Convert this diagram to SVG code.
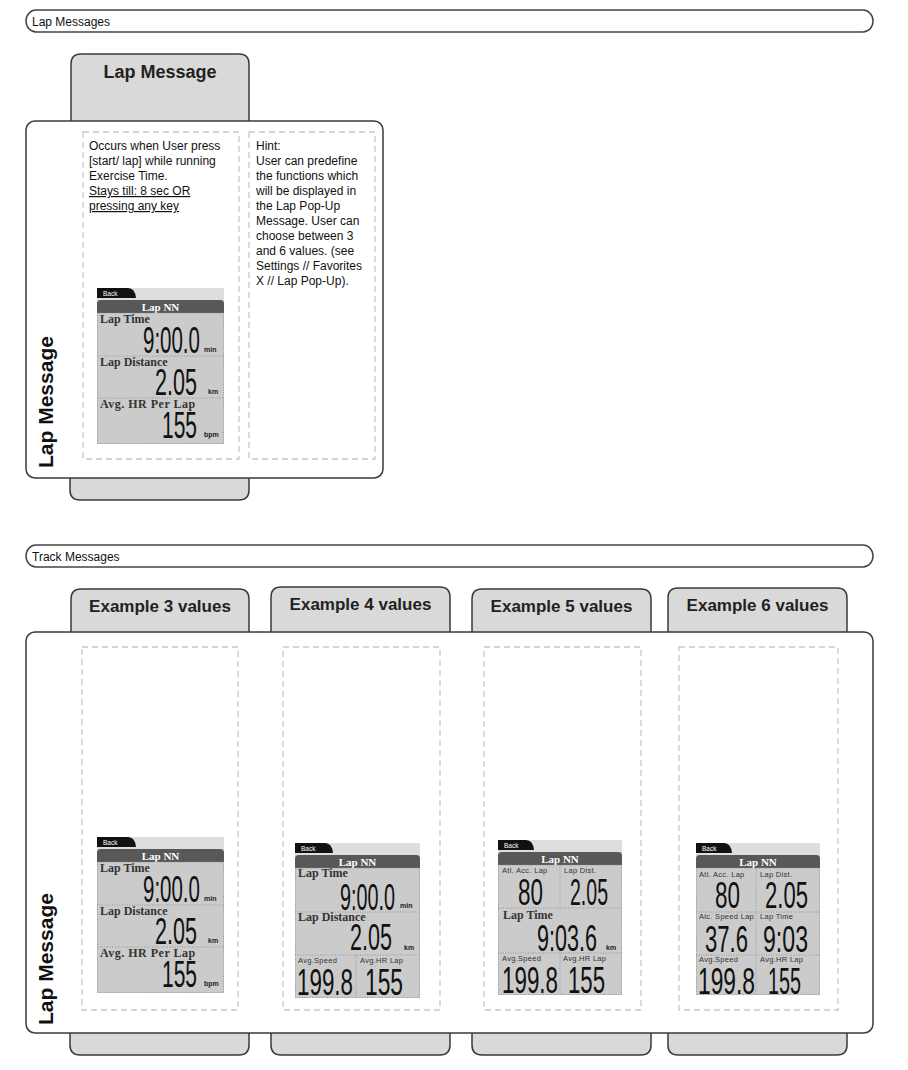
<svg xmlns="http://www.w3.org/2000/svg" width="908" height="1070" viewBox="0 0 908 1070">
<style>
.bg{fill:#fff}
.bar{fill:#fff;stroke:#444;stroke-width:1.5}
.tab{fill:#d9d9d9;stroke:#3a3a3a;stroke-width:1.5}
.panel{fill:#fff;stroke:#3a3a3a;stroke-width:1.5}
.dash{fill:none;stroke:#c8c8c8;stroke-width:1.3;stroke-dasharray:6 4}
.bartxt{font-family:"Liberation Sans",Arial,sans-serif;font-size:12px;fill:#111}
.tabtxt{font-family:"Liberation Sans",Arial,sans-serif;font-size:17px;font-weight:bold;fill:#222;text-anchor:middle}
.vert{font-family:"Liberation Sans",Arial,sans-serif;font-size:21px;font-weight:bold;fill:#111}
.body{font-family:"Liberation Sans",Arial,sans-serif;font-size:12px;fill:#111}
.scr{fill:#cbcbcb}
.strip{fill:#dedede}
.backtab{fill:#111}
.hdrbar{fill:#585858}
.dots{fill:none;stroke:#8a8a8a;stroke-width:0.8;stroke-dasharray:1 1.5}
.lbl{font-family:"Liberation Serif","Times New Roman",serif;font-weight:bold;font-size:12px;fill:#333}
.sl{font-family:"Liberation Sans",Arial,sans-serif;font-size:7.5px;fill:#333;letter-spacing:0.3px}
.dg{font-family:"Liberation Sans",Arial,sans-serif;font-size:37px;fill:#111}
.un{font-family:"Liberation Sans",Arial,sans-serif;font-size:7px;font-weight:bold;fill:#222}
.hdr{font-family:"Liberation Serif","Times New Roman",serif;font-weight:bold;font-size:11px;fill:#fff;text-anchor:middle}
.back{font-family:"Liberation Sans",Arial,sans-serif;font-size:6.5px;fill:#fff}
</style>
<rect class="bg" x="0" y="0" width="908" height="1070"/>

<!-- Section 1: Lap Messages -->
<g id="bar-lap-messages">
<rect class="bar" x="26" y="10" width="847" height="22" rx="10" ry="11"/>
<text class="bartxt" x="32" y="26">Lap Messages</text>
</g>

<g id="lap-message-panel">
<path class="tab" d="M71,130 V64 Q71,54 81,54 H239 Q249,54 249,64 V130 Z"/>
<text class="tabtxt" x="160" y="78" style="font-size:18px">Lap Message</text>
<path class="tab" d="M70,470 V490 Q70,500 80,500 H239 Q249,500 249,490 V470 Z"/>
<rect class="panel" x="26" y="121" width="357" height="357" rx="9"/>
<text class="vert" transform="translate(53,468) rotate(-90)">Lap Message</text>
</g>

<g id="lap-desc-box">
<rect class="dash" x="83" y="132" width="156" height="327"/>
<text class="body" x="89" y="150">Occurs when User press</text>
<text class="body" x="89" y="165">[start/ lap] while running</text>
<text class="body" x="89" y="180">Exercise Time.</text>
<text class="body" x="89" y="195" text-decoration="underline">Stays till: 8 sec OR</text>
<text class="body" x="89" y="210" text-decoration="underline">pressing any key</text>
</g>

<g id="lap-hint-box">
<rect class="dash" x="249" y="132" width="126" height="327"/>
<text class="body" x="256" y="150">Hint:</text>
<text class="body" x="256" y="165">User can predefine</text>
<text class="body" x="256" y="180">the functions which</text>
<text class="body" x="256" y="195">will be displayed in</text>
<text class="body" x="256" y="210">the Lap Pop-Up</text>
<text class="body" x="256" y="225">Message. User can</text>
<text class="body" x="256" y="240">choose between 3</text>
<text class="body" x="256" y="255">and 6 values. (see</text>
<text class="body" x="256" y="270">Settings // Favorites</text>
<text class="body" x="256" y="285">X // Lap Pop-Up).</text>
</g>

<g id="screen-top" transform="translate(97,288)">
<rect class="scr" x="0" y="0" width="127" height="156"/>
<rect class="strip" x="0" y="0" width="127" height="12"/>
<path class="backtab" d="M0,0 H31 Q38,0 39,10 H0 Z"/>
<text class="back" x="6" y="8">Back</text>
<path class="hdrbar" d="M0,25 V16 Q0,12 4,12 H123 Q127,12 127,16 V25 Z"/>
<text class="hdr" x="63.5" y="22.5">Lap NN</text>
<rect class="dots" x="0.5" y="25" width="126" height="130.5"/>
<line class="dots" x1="0" y1="68" x2="127" y2="68"/>
<line class="dots" x1="0" y1="110" x2="127" y2="110"/>
<text class="lbl" x="3" y="35">Lap Time</text>
<text class="dg" transform="translate(46,65) scale(0.554,1)">9:00.0</text>
<text class="un" x="107" y="64">min</text>
<text class="lbl" x="3" y="78">Lap Distance</text>
<text class="dg" transform="translate(58,107) scale(0.583,1)">2.05</text>
<text class="un" x="111" y="106">km</text>
<text class="lbl" x="3" y="120" letter-spacing="0.5">Avg. HR Per Lap</text>
<text class="dg" transform="translate(65,150) scale(0.567,1)">155</text>
<text class="un" x="107" y="149">bpm</text>
</g>

<!-- Section 2: Track Messages -->
<g id="bar-track-messages">
<rect class="bar" x="26" y="545" width="847" height="22" rx="10" ry="11"/>
<text class="bartxt" x="32" y="561">Track Messages</text>
</g>

<g id="track-panel">
<path class="tab" d="M71,640 V599 Q71,589 81,589 H239 Q249,589 249,599 V640 Z"/>
<path class="tab" d="M271,640 V597 Q271,587 281,587 H440 Q450,587 450,597 V640 Z"/>
<path class="tab" d="M472,640 V599 Q472,589 482,589 H641 Q651,589 651,599 V640 Z"/>
<path class="tab" d="M668,640 V598 Q668,588 678,588 H837 Q847,588 847,598 V640 Z"/>
<text class="tabtxt" x="160" y="612">Example 3 values</text>
<text class="tabtxt" x="360.5" y="610">Example 4 values</text>
<text class="tabtxt" x="561.5" y="612">Example 5 values</text>
<text class="tabtxt" x="757.5" y="611">Example 6 values</text>
<path class="tab" d="M70,1025 V1045 Q70,1055 80,1055 H239 Q249,1055 249,1045 V1025 Z"/>
<path class="tab" d="M271,1025 V1045 Q271,1055 281,1055 H440 Q450,1055 450,1045 V1025 Z"/>
<path class="tab" d="M472,1025 V1045 Q472,1055 482,1055 H641 Q651,1055 651,1045 V1025 Z"/>
<path class="tab" d="M668,1025 V1045 Q668,1055 678,1055 H837 Q847,1055 847,1045 V1025 Z"/>
<rect class="panel" x="26" y="632" width="847" height="401" rx="9"/>
<text class="vert" transform="translate(53,1025) rotate(-90)">Lap Message</text>
</g>

<g id="example-3">
<rect class="dash" x="82" y="647" width="156" height="363"/>
<g transform="translate(97,837)">
<rect class="scr" x="0" y="0" width="127" height="156"/>
<rect class="strip" x="0" y="0" width="127" height="12"/>
<path class="backtab" d="M0,0 H31 Q38,0 39,10 H0 Z"/>
<text class="back" x="6" y="8">Back</text>
<path class="hdrbar" d="M0,25 V16 Q0,12 4,12 H123 Q127,12 127,16 V25 Z"/>
<text class="hdr" x="63.5" y="22.5">Lap NN</text>
<rect class="dots" x="0.5" y="25" width="126" height="130.5"/>
<line class="dots" x1="0" y1="68" x2="127" y2="68"/>
<line class="dots" x1="0" y1="110" x2="127" y2="110"/>
<text class="lbl" x="3" y="35">Lap Time</text>
<text class="dg" transform="translate(46,65) scale(0.554,1)">9:00.0</text>
<text class="un" x="107" y="64">min</text>
<text class="lbl" x="3" y="78">Lap Distance</text>
<text class="dg" transform="translate(58,107) scale(0.583,1)">2.05</text>
<text class="un" x="111" y="106">km</text>
<text class="lbl" x="3" y="120" letter-spacing="0.5">Avg. HR Per Lap</text>
<text class="dg" transform="translate(65,150) scale(0.567,1)">155</text>
<text class="un" x="107" y="149">bpm</text>
</g>
</g>

<g id="example-4">
<rect class="dash" x="283" y="647" width="157" height="363"/>
<g transform="translate(295,843)">
<rect class="scr" x="0" y="0" width="125" height="155"/>
<rect class="strip" x="0" y="0" width="125" height="12"/>
<path class="backtab" d="M0,0 H30 Q37,0 38,10 H0 Z"/>
<text class="back" x="6" y="8">Back</text>
<path class="hdrbar" d="M0,25 V16 Q0,12 4,12 H121 Q125,12 125,16 V25 Z"/>
<text class="hdr" x="62.5" y="22.5">Lap NN</text>
<rect class="dots" x="0.5" y="25" width="124" height="129.5"/>
<line class="dots" x1="0" y1="69" x2="125" y2="69"/>
<line class="dots" x1="0" y1="112" x2="125" y2="112"/>
<line class="dots" x1="61" y1="112" x2="61" y2="155"/>
<text class="lbl" x="3" y="34">Lap Time</text>
<text class="dg" transform="translate(45,67) scale(0.535,1)">9:00.0</text>
<text class="un" x="105" y="65">min</text>
<text class="lbl" x="3" y="78">Lap Distance</text>
<text class="dg" transform="translate(55,107) scale(0.583,1)">2.05</text>
<text class="un" x="109" y="107">km</text>
<text class="sl" x="3" y="120">Avg.Speed</text>
<text class="sl" x="65" y="120">Avg.HR Lap</text>
<text class="dg" transform="translate(2,152) scale(0.605,1)">199.8</text>
<text class="dg" transform="translate(70,152) scale(0.616,1)">155</text>
</g>
</g>

<g id="example-5">
<rect class="dash" x="484" y="647" width="157" height="363"/>
<g transform="translate(498,840)">
<rect class="scr" x="0" y="0" width="124" height="155"/>
<rect class="strip" x="0" y="0" width="124" height="12"/>
<path class="backtab" d="M0,0 H28 Q35,0 36,10 H0 Z"/>
<text class="back" x="6" y="8">Back</text>
<path class="hdrbar" d="M0,25 V16 Q0,12 4,12 H120 Q124,12 124,16 V25 Z"/>
<text class="hdr" x="62" y="22.5">Lap NN</text>
<rect class="dots" x="0.5" y="25" width="123" height="129.5"/>
<line class="dots" x1="62" y1="25" x2="62" y2="68"/>
<line class="dots" x1="0" y1="68" x2="124" y2="68"/>
<line class="dots" x1="0" y1="113" x2="124" y2="113"/>
<line class="dots" x1="62" y1="113" x2="62" y2="155"/>
<text class="sl" x="4" y="33">Atl. Acc. Lap</text>
<text class="sl" x="66" y="33">Lap Dist.</text>
<text class="dg" transform="translate(20,65) scale(0.608,1)">80</text>
<text class="dg" transform="translate(72,65) scale(0.528,1)">2.05</text>
<text class="lbl" x="5" y="79">Lap Time</text>
<text class="dg" transform="translate(39,111) scale(0.583,1)">9:03.6</text>
<text class="un" x="108" y="110">km</text>
<text class="sl" x="4" y="121">Avg.Speed</text>
<text class="sl" x="65" y="121">Avg.HR Lap</text>
<text class="dg" transform="translate(4,153) scale(0.605,1)">199.8</text>
<text class="dg" transform="translate(70,153) scale(0.600,1)">155</text>
</g>
</g>

<g id="example-6">
<rect class="dash" x="679" y="647" width="159" height="363"/>
<g transform="translate(696,843)">
<rect class="scr" x="0" y="0" width="124" height="152"/>
<rect class="strip" x="0" y="0" width="124" height="12"/>
<path class="backtab" d="M0,0 H28 Q35,0 36,10 H0 Z"/>
<text class="back" x="6" y="8">Back</text>
<path class="hdrbar" d="M0,25 V16 Q0,12 4,12 H120 Q124,12 124,16 V25 Z"/>
<text class="hdr" x="62" y="22.5">Lap NN</text>
<rect class="dots" x="0.5" y="25" width="123" height="126.5"/>
<line class="dots" x1="60" y1="25" x2="60" y2="152"/>
<line class="dots" x1="0" y1="69" x2="124" y2="69"/>
<line class="dots" x1="0" y1="112" x2="124" y2="112"/>
<text class="sl" x="3" y="34">Atl. Acc. Lap</text>
<text class="sl" x="64" y="34">Lap Dist.</text>
<text class="dg" transform="translate(19,65) scale(0.608,1)">80</text>
<text class="dg" transform="translate(69,65) scale(0.597,1)">2.05</text>
<text class="sl" x="3" y="76">Alc. Speed Lap</text>
<text class="sl" x="64" y="76">Lap Time</text>
<text class="dg" transform="translate(9,109) scale(0.597,1)">37.6</text>
<text class="dg" transform="translate(67,109) scale(0.625,1)">9:03</text>
<text class="sl" x="3" y="119">Avg.Speed</text>
<text class="sl" x="64" y="119">Avg.HR Lap</text>
<text class="dg" transform="translate(2,151) scale(0.616,1)">199.8</text>
<text class="dg" transform="translate(72,151) scale(0.535,1)">155</text>
</g>
</g>
</svg>
